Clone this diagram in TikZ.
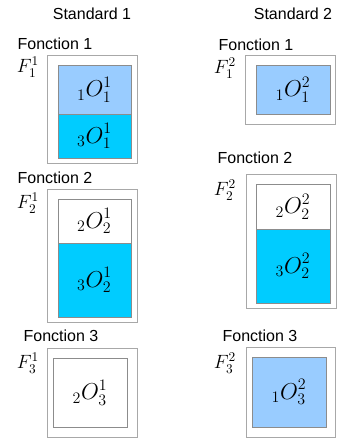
\documentclass[tikz,border=0pt]{standalone}
\usepackage{fontspec}
\setmainfont{Liberation Sans}
\usepackage{amsmath}
\usetikzlibrary{positioning}
\definecolor{framegray}{HTML}{A8A8A8}
\definecolor{linegray}{HTML}{8C8C8C}
\definecolor{paleblue}{HTML}{99CCFF}
\definecolor{brightcyan}{HTML}{00CCFF}
\newcommand{\objlabel}[3]{$\displaystyle {}_{#1}O_{#2}^{#3}$}
\newcommand{\funlabel}[2]{$F_{#1}^{#2}$}

\begin{document}
\begin{tikzpicture}[x=0.75pt,y=-0.75pt,
    boxwh/.style 2 args={minimum width=#1*0.75pt,minimum height=#2*0.75pt,
      inner sep=0pt,outer sep=0pt},
    outerbox/.style={draw=framegray,line width=0.75pt,fill=white},
    objbox/.style={draw=linegray,line width=0.6pt,font=\fontsize{18}{20}\selectfont},
    headtext/.style={font=\fontsize{12}{14}\selectfont},
    funtext/.style={font=\fontsize{14}{16}\selectfont,inner sep=0pt}]
  \useasboundingbox (0,0) rectangle (337,439);

  % column headings
  \node[headtext] (std1) at (92,14) {Standard 1};
  \node[headtext] (std2) at (293,14) {Standard 2};

  % standard 1
  \node[headtext] (fa1) at (55,44) {Fonction 1};
  \node[funtext] (Fa1) at (28,67) {\funlabel{1}{1}};
  \node[outerbox,boxwh={90}{108}] (ba1) at (92,109) {};
  \node[objbox,fill=paleblue,boxwh={73}{49}] (oa11) at (94.5,89.5) {\objlabel{1}{1}{1}};
  \node[objbox,fill=brightcyan,boxwh={73}{44}] (oa13) at (94.5,136) {\objlabel{3}{1}{1}};

  \node[headtext] (fa2) at (55,178) {Fonction 2};
  \node[funtext] (Fa2) at (28,203) {\funlabel{2}{1}};
  \node[outerbox,boxwh={90}{133}] (ba2) at (92,255.5) {};
  \node[objbox,fill=white,boxwh={73}{44}] (oa22) at (94.5,221) {\objlabel{2}{2}{1}};
  \node[objbox,fill=brightcyan,boxwh={73}{74}] (oa23) at (94.5,280) {\objlabel{3}{2}{1}};

  \node[headtext] (fa3) at (61,336) {Fonction 3};
  \node[funtext] (Fa3) at (28,363) {\funlabel{3}{1}};
  \node[outerbox,boxwh={90}{89}] (ba3) at (92,392.5) {};
  \node[objbox,fill=white,boxwh={74}{69}] (oa32) at (90,392.5) {\objlabel{2}{3}{1}};

  % standard 2
  \node[headtext] (fb1) at (256,45) {Fonction 1};
  \node[funtext] (Fb1) at (225,68) {\funlabel{1}{2}};
  \node[outerbox,boxwh={90}{69}] (bb1) at (290,89.5) {};
  \node[objbox,fill=paleblue,boxwh={74}{49}] (ob11) at (293,89.5) {\objlabel{1}{1}{2}};

  \node[headtext] (fb2) at (255,158) {Fonction 2};
  \node[funtext] (Fb2) at (225,190) {\funlabel{2}{2}};
  \node[outerbox,boxwh={90}{134}] (bb2) at (291,241) {};
  \node[objbox,fill=white,boxwh={74}{45}] (ob22) at (293,206.5) {\objlabel{2}{2}{2}};
  \node[objbox,fill=brightcyan,boxwh={74}{74}] (ob23) at (293,266) {\objlabel{3}{2}{2}};

  \node[headtext] (fb3) at (260,336) {Fonction 3};
  \node[funtext] (Fb3) at (225,363) {\funlabel{3}{2}};
  \node[outerbox,boxwh={89}{90}] (bb3) at (290.5,392.5) {};
  \node[objbox,fill=paleblue,boxwh={74}{70}] (ob31) at (289,392) {\objlabel{1}{3}{2}};
\end{tikzpicture}
\end{document}
